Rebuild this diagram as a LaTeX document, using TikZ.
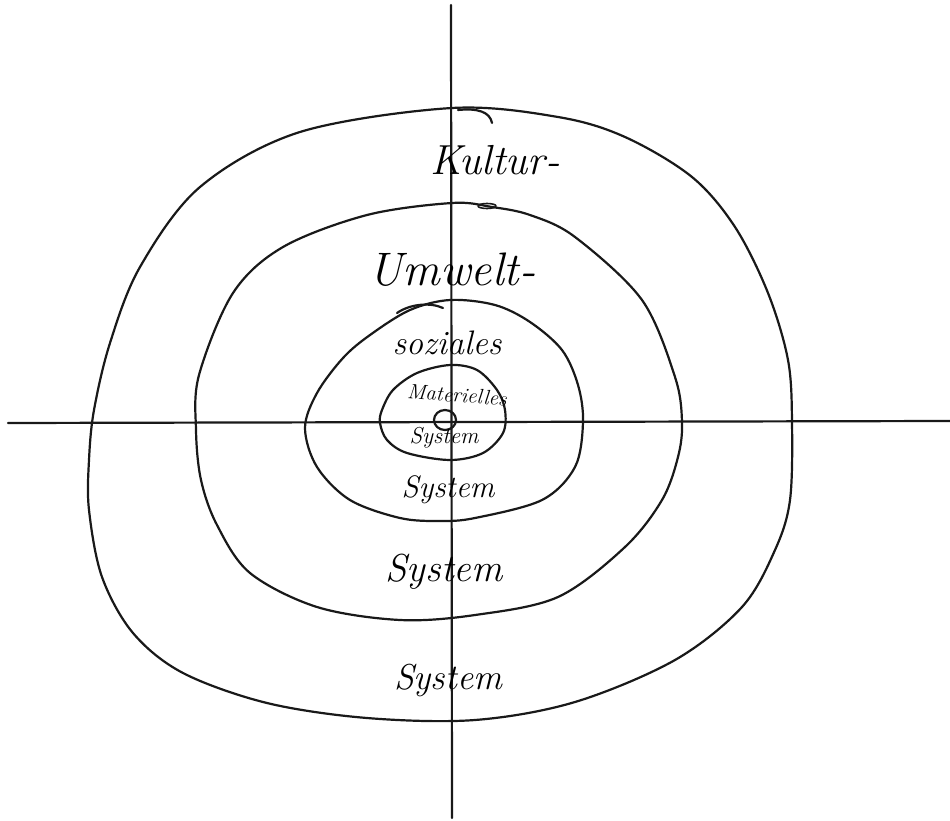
\documentclass[tikz,border=0pt]{standalone}
\usepackage{fontspec}
\begin{document}
\begin{tikzpicture}[x=1pt,y=-1pt,
  ink/.style={line width=2.2pt, line cap=round, line join=round, black!90},
  lbl/.style={inner sep=0pt, font=\itshape},
]
\useasboundingbox[fill=white] (0,0) rectangle (950,821);
% axes
\coordinate (vt) at (451,5);
\coordinate (vb) at (452,818);
\coordinate (hl) at (8,423);
\coordinate (hr) at (950,421);
\draw[ink] (vt) -- (vb);
\draw[ink] (hl) -- (hr);
% outer loop
\draw[ink] plot[smooth cycle, tension=0.55] coordinates {
 (452,108) (558,117) (625,137) (692,177) (735,227) (768,293) (788,360) (792,422)
 (790,500) (775,550) (742,607) (675,660) (575,702) (475,720) (367,718) (267,703)
 (183,673) (133,633) (102,577) (89,510) (89,460) (94,410) (110,343) (140,267) (200,187) (300,132)};
\draw[ink] (458,110) .. controls (478,108) and (490,112) .. (492,123);
% second loop
\draw[ink] plot[smooth cycle, tension=0.55] coordinates {
 (452,203) (492,207) (530,215) (575,237) (642,300) (675,377) (682,422) (678,457)
 (662,500) (625,547) (558,597) (475,615) (400,620) (317,607) (250,573) (217,525)
 (201,480) (196,430) (199,375) (233,293) (283,247) (367,215)};
\draw[ink, line width=1.6pt] (487,206) ellipse [x radius=9, y radius=2.5];
% third loop
\draw[ink] plot[smooth cycle, tension=0.55] coordinates {
 (450,300) (495,305) (530,322) (562,350) (578,385) (583,422) (575,467) (542,500)
 (475,518) (440,521) (400,518) (350,500) (317,467) (305,428) (317,393) (343,358)
 (370,335) (410,310)};
\draw[ink] (397,313) .. controls (410,304) and (430,302) .. (443,308);
% fourth loop
\draw[ink] plot[smooth cycle, tension=0.55] coordinates {
 (450,365) (477,370) (497,390) (505,410) (503,433) (483,453) (450,460) (407,453)
 (387,440) (380,423) (382,410) (393,390) (417,373)};
% centre circle
\draw[ink] (445,420) ellipse [x radius=11, y radius=10];
% labels
\node[lbl, font=\itshape\fontsize{42}{42}\selectfont] (kultur) at (495,160) {Kultur-};
\node[lbl, font=\itshape\fontsize{47}{47}\selectfont] (umwelt) at (452,270) {Umwelt-};
\node[lbl, font=\itshape\fontsize{34}{34}\selectfont] (soz) at (447,343) {soziales};
\node[lbl, font=\itshape\fontsize{21}{21}\selectfont, rotate=-4] (mat) at (457,395) {Materielles};
\node[lbl, font=\itshape\fontsize{23}{23}\selectfont] (sys1) at (444,438) {System};
\node[lbl, font=\itshape\fontsize{31}{31}\selectfont] (sys2) at (448,490) {System};
\node[lbl, font=\itshape\fontsize{39}{39}\selectfont] (sys3) at (444,572) {System};
\node[lbl, font=\itshape\fontsize{36}{36}\selectfont] (sys4) at (448,680) {System};
\end{tikzpicture}
\end{document}
